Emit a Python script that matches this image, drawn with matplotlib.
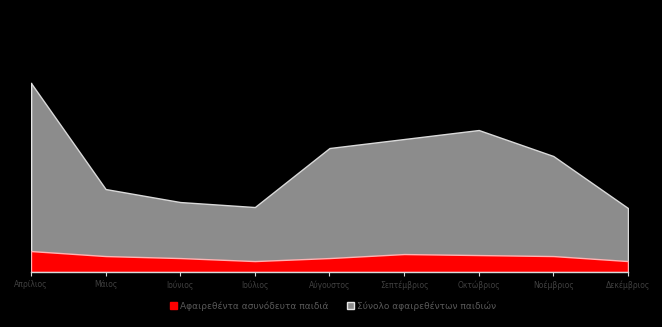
import matplotlib.pyplot as plt
import matplotlib.patches as mpatches

# Μήνες και τιμές (εκτίμηση από την εικόνα)
mines = ['Απρίλιος', 'Μάιος', 'Ιούνιος', 'Ιούλιος', 'Αύγουστος',
         'Σεπτέμβριος', 'Οκτώβριος', 'Νοέμβριος', 'Δεκέμβριος']
synolo = [3780, 1660, 1400, 1300, 2480, 2660, 2840, 2320, 1280]
asynodeuta = [420, 320, 280, 220, 280, 360, 340, 320, 220]

fig = plt.figure(figsize=(6.62, 3.27), dpi=100, facecolor='black')
ax = fig.add_axes([0.0468, 0.168, 0.9018, 0.6485])
ax.set_facecolor('black')

x = list(range(len(mines)))
ax.fill_between(x, synolo, color='#8c8c8c', edgecolor='#d9d9d9', linewidth=1.0, zorder=2)
ax.plot([0, 0], [0, synolo[0]], color='#e6e6e6', linewidth=1.0, zorder=3)
ax.fill_between(x, asynodeuta, color='#ff0000', edgecolor='#ffb3b3', linewidth=1.0, zorder=4)

ax.set_xlim(0, len(mines) - 1)
ax.set_ylim(0, 4240)
ax.set_xticks(x)
ax.set_xticklabels(mines, fontsize=5.5, color='#404040')
ax.set_yticks([])
for s in ['top', 'right', 'left']:
    ax.spines[s].set_visible(False)
ax.spines['bottom'].set_color('#d9d9d9')
ax.spines['bottom'].set_linewidth(1.0)
ax.spines['bottom'].set_zorder(5)
ax.tick_params(axis='x', length=3, color='#d9d9d9', pad=3)

h1 = mpatches.Patch(facecolor='#ff0000', edgecolor='#ff0000')
h2 = mpatches.Patch(facecolor='#8c8c8c', edgecolor='#e6e6e6')
fig.legend([h1, h2], ['Αφαιρεθέντα ασυνόδευτα παιδιά', 'Σύνολο αφαιρεθέντων παιδιών'],
           loc='center', bbox_to_anchor=(0.503, 0.064), ncol=2, frameon=False,
           fontsize=6.5, labelcolor='#595959', handlelength=0.8, handleheight=0.8,
           handletextpad=0.3, columnspacing=2.0)

fig.savefig('out.png', dpi=100, facecolor='black')
